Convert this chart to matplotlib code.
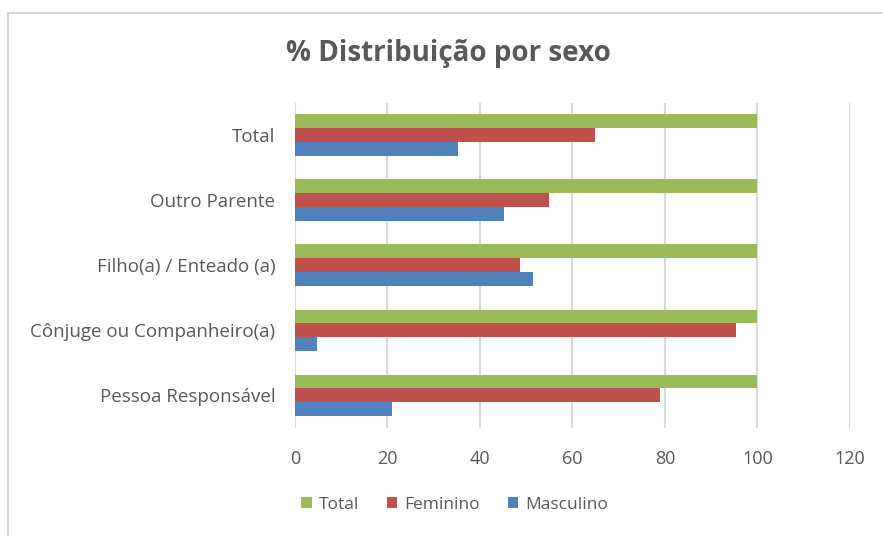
import numpy as np
import matplotlib
matplotlib.use("Agg")
import matplotlib.pyplot as plt
from matplotlib.patches import Rectangle

plt.rcParams['font.family'] = ['Open Sans', 'DejaVu Sans']

# categories from bottom to top
categorias = ['Pessoa Responsável', 'Cônjuge ou Companheiro(a)', 'Filho(a) / Enteado (a)',
              'Outro Parente', 'Total']
total = [100, 100, 100, 100, 100]
feminino = [79.0, 95.3, 48.6, 54.9, 64.8]
masculino = [21.0, 4.7, 51.4, 45.1, 35.2]
xticks = [0, 20, 40, 60, 80, 100, 120]

cor_total = '#9BBB59'
cor_fem = '#C0504D'
cor_masc = '#4F81BD'
cinza = '#595959'

fig = plt.figure(figsize=(8.83, 5.36), dpi=100)
ax = fig.add_axes([0.334, 0.2015, 0.6286, 0.6065])

# outer chart frame
fig.patches.append(Rectangle((0.009, -0.05), 1.2, 1.026, transform=fig.transFigure,
                             fill=False, edgecolor='#D4D4D4', linewidth=1.5))

y = np.arange(len(categorias))
h = 0.215
ax.barh(y + h, total, height=h, color=cor_total, label='Total', zorder=3)
ax.barh(y, feminino, height=h, color=cor_fem, label='Feminino', zorder=3)
ax.barh(y - h, masculino, height=h, color=cor_masc, label='Masculino', zorder=3)

ax.set_xlim(0, 120)
ax.set_ylim(-0.5, 4.5)
ax.set_xticks(xticks)
ax.set_yticks(y)
ax.set_yticklabels(categorias)
ax.tick_params(axis='both', length=0, labelsize=13, labelcolor=cinza)
ax.tick_params(axis='y', labelsize=13.5, pad=14)
ax.tick_params(axis='x', pad=16)
ax.grid(axis='x', color='#D9D9D9', linewidth=1.5, zorder=0)
for s in ax.spines.values():
    s.set_visible(False)

fig.text(0.508, 0.9, '% Distribuição por sexo', ha='center', va='center',
         fontsize=20, fontweight='bold', color=cinza)

leg = fig.legend(loc='center', bbox_to_anchor=(0.515, 0.058), ncol=3, frameon=False,
                 fontsize=12.5, handlelength=0.6, handleheight=0.6, handletextpad=0.4,
                 columnspacing=1.6)
for t in leg.get_texts():
    t.set_color(cinza)

fig.savefig('out.png', dpi=100, facecolor='white')
